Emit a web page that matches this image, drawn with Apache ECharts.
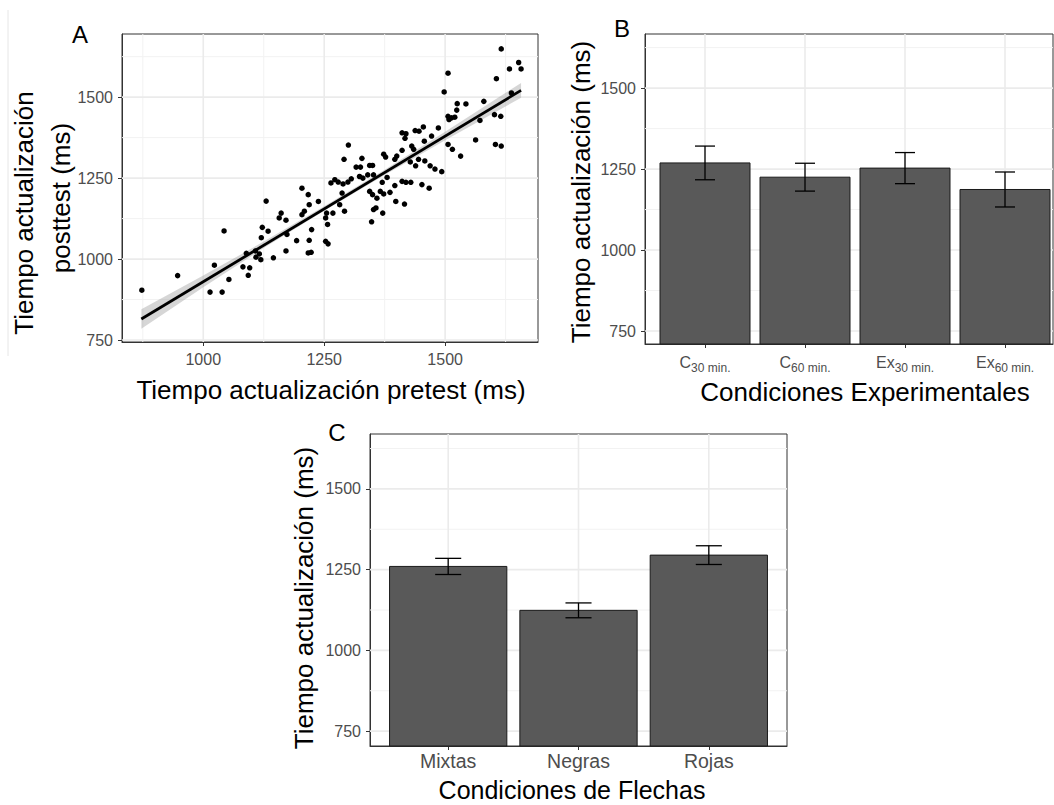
<!DOCTYPE html>
<html>
<head>
<meta charset="utf-8">
<title>Tiempo de actualización</title>
<script src="https://cdn.jsdelivr.net/npm/echarts@6/dist/echarts.min.js"></script>
<style>
  html, body { margin: 0; padding: 0; background: #fff; }
  #box { width: 1054px; height: 805px; }
</style>
</head>
<body>
<div id="box"></div>
<script>
// ---- A: pretest vs posttest ----
var pretest = [
  873, 947, 1014, 1039, 1023, 1043, 1053, 1082, 1096, 1093, 1089, 1109, 1119, 1120, 1122, 1130, 1134, 1108, 1116,
  1145, 1161, 1157, 1171, 1173, 1171, 1193, 1204, 1217, 1219, 1238, 1209, 1204, 1224, 1219, 1217, 1223, 1253, 1258,
  1255, 1253, 1257, 1268, 1264, 1272, 1279, 1289, 1299, 1306, 1287, 1292, 1282, 1300, 1291, 1328, 1316, 1325, 1344,
  1350, 1323, 1330, 1340, 1352, 1344, 1350, 1359, 1366, 1357, 1352, 1348, 1371,
  1616, 1633, 1652, 1657, 1606, 1506, 1498, 1580, 1543, 1525, 1524, 1506, 1513, 1520, 1508, 1637, 1572, 1602, 1615,
  1486, 1455, 1438, 1446, 1411, 1419, 1417, 1472, 1457, 1431, 1435, 1411, 1506, 1515, 1532, 1563, 1604, 1616, 1373,
  1377, 1396, 1400, 1428, 1445, 1439, 1458, 1469, 1479, 1493, 1380, 1370, 1411, 1419, 1429, 1452, 1467, 1396, 1386,
  1373, 1398, 1416
];
var posttest = [
  904, 949, 898, 898, 981, 1087, 937, 976, 973, 950, 1018, 1006, 998, 1066, 1098, 1179, 1086, 1025, 1016,
  1004, 1142, 1127, 1120, 1076, 1025, 1057, 1219, 1199, 1168, 1178, 1148, 1137, 1091, 1058, 1019, 1021, 1055, 1047,
  1142, 1127, 1107, 1142, 1235, 1245, 1238, 1232, 1238, 1248, 1204, 1148, 1168, 1352, 1308, 1311, 1284, 1284, 1289,
  1289, 1255, 1250, 1260, 1260, 1209, 1199, 1188, 1209, 1158, 1153, 1115, 1142,
  1649, 1587, 1607, 1587, 1557, 1574, 1516, 1487, 1479, 1480, 1460, 1441, 1436, 1438, 1431, 1513, 1428, 1446, 1441,
  1405, 1408, 1397, 1395, 1390, 1387, 1373, 1380, 1364, 1349, 1339, 1336, 1354, 1339, 1318, 1368, 1354, 1349, 1324,
  1315, 1308, 1318, 1300, 1308, 1288, 1303, 1288, 1278, 1270, 1252, 1237, 1240, 1237, 1237, 1230, 1219, 1227, 1206,
  1201, 1178, 1170
];
var fitX = [872, 1657];
var fitY = [815, 1521];
var bandX = [872, 1000, 1125, 1250, 1375, 1500, 1657];
var bandLow = [785, 913, 1034, 1149, 1260, 1367, 1498];
var bandHigh = [845, 949, 1054, 1163, 1276, 1393, 1544];

// ---- B: condiciones experimentales ----
var condB = ['C', 'C', 'Ex', 'Ex'];
var condBSub = ['30 min.', '60 min.', '30 min.', '60 min.'];
var meanB = [1269, 1225, 1253, 1187];
var errB = [52, 43, 48, 54];

// ---- C: condiciones de flechas ----
var condC = ['Mixtas', 'Negras', 'Rojas'];
var meanC = [1260, 1124, 1295];
var errC = [25, 23, 29];

// ticks
var xTicksA = [1000, 1250, 1500];
var xMinorA = [875, 1125, 1375, 1625];
var yTicks = [750, 1000, 1250, 1500];
var yMinor = [875, 1125, 1375, 1625];
var posB = [1, 2, 3, 4];
var posC = [1, 2, 3];

var FONT = 'Liberation Sans';
var myChart = echarts.init(document.getElementById('box'), null, { renderer: 'svg' });

function gridLines(idx, dir, values, width, color) {
  return {
    type: 'custom', xAxisIndex: idx, yAxisIndex: idx, z: 1, silent: true,
    data: values.map(function (v) { return [v]; }),
    renderItem: function (params, api) {
      var cs = params.coordSys;
      var v = api.value(0), shape;
      if (dir === 'x') {
        var px = api.coord([v, 1000])[0];
        shape = { x1: px, y1: cs.y, x2: px, y2: cs.y + cs.height };
      } else {
        var py = api.coord([1, v])[1];
        shape = { x1: cs.x, y1: py, x2: cs.x + cs.width, y2: py };
      }
      return { type: 'line', shape: shape, style: { stroke: color, lineWidth: width } };
    }
  };
}

function barSeries(idx, means, errs) {
  return [{
    type: 'custom', xAxisIndex: idx, yAxisIndex: idx, z: 3, silent: true,
    data: means.map(function (m, i) { return [i + 1, m, errs[i]]; }),
    renderItem: function (params, api) {
      var x = api.value(0), m = api.value(1);
      var left = api.coord([x - 0.45, m]);
      var right = api.coord([x + 0.45, m]);
      var bottom = params.coordSys.y + params.coordSys.height;
      return {
        type: 'rect',
        shape: { x: left[0], y: left[1], width: right[0] - left[0], height: bottom - left[1] },
        style: { fill: '#595959', stroke: '#1a1a1a', lineWidth: 1 }
      };
    }
  }, {
    type: 'custom', xAxisIndex: idx, yAxisIndex: idx, z: 4, silent: true,
    data: means.map(function (m, i) { return [i + 1, m, errs[i]]; }),
    renderItem: function (params, api) {
      var x = api.value(0), m = api.value(1), e = api.value(2);
      var hi = api.coord([x, m + e]), lo = api.coord([x, m - e]);
      var l = api.coord([x - 0.1, m])[0], r = api.coord([x + 0.1, m])[0];
      var st = { stroke: '#000', lineWidth: 1.3 };
      return { type: 'group', children: [
        { type: 'line', shape: { x1: hi[0], y1: hi[1], x2: lo[0], y2: lo[1] }, style: st },
        { type: 'line', shape: { x1: l, y1: hi[1], x2: r, y2: hi[1] }, style: st },
        { type: 'line', shape: { x1: l, y1: lo[1], x2: r, y2: lo[1] }, style: st }
      ] };
    }
  }];
}

function axisCommon(extra) {
  var a = {
    type: 'value',
    axisLine: { show: true, lineStyle: { color: '#333', width: 1 } },
    axisTick: { show: true, length: 4, lineStyle: { color: '#333', width: 1 } },
    axisLabel: { color: '#4d4d4d', fontFamily: FONT, fontSize: 16, margin: 9,
      formatter: function (v) { return String(v); } },
    splitLine: { show: false }
  };
  for (var k in extra) {
    if (typeof extra[k] === 'object' && a[k]) {
      for (var j in extra[k]) a[k][j] = extra[k][j];
    } else a[k] = extra[k];
  }
  return a;
}

function title(x, y, text, rot, size) {
  return {
    type: 'text', x: x, y: y, rotation: rot || 0, silent: true,
    style: { text: text, x: 0, y: 0, align: 'center', verticalAlign: 'middle',
      fill: '#000', fontFamily: FONT, fontSize: size || 26 }
  };
}

var gridStyle = { show: true, borderColor: '#333', borderWidth: 1, backgroundColor: '#fff' };

var option = {
  animation: false,
  grid: [
    Object.assign({ left: 122, top: 34, width: 416, height: 308 }, gridStyle),
    Object.assign({ left: 645, top: 34, width: 408, height: 310 }, gridStyle),
    Object.assign({ left: 370, top: 434, width: 417, height: 312 }, gridStyle)
  ],
  xAxis: [
    axisCommon({ gridIndex: 0, min: 832, max: 1692,
      axisTick: { customValues: xTicksA }, axisLabel: { customValues: xTicksA } }),
    axisCommon({ gridIndex: 1, min: 0.4, max: 4.48,
      axisTick: { customValues: posB },
      axisLabel: {
        customValues: posB, margin: 10,
        formatter: function (v) {
          var i = Math.round(v) - 1;
          return '{m|' + condB[i] + '}{s|' + condBSub[i] + '}';
        },
        rich: {
          m: { fontSize: 16, lineHeight: 20, verticalAlign: 'top', color: '#4d4d4d', fontFamily: FONT },
          s: { fontSize: 12, lineHeight: 10, verticalAlign: 'bottom', color: '#4d4d4d', fontFamily: FONT }
        }
      } }),
    axisCommon({ gridIndex: 2, min: 0.4, max: 3.6,
      axisTick: { customValues: posC },
      axisLabel: {
        customValues: posC, fontSize: 19.5, margin: 5,
        formatter: function (v) { return condC[Math.round(v) - 1]; }
      } })
  ],
  yAxis: [
    axisCommon({ gridIndex: 0, min: 744, max: 1695,
      axisTick: { customValues: yTicks }, axisLabel: { customValues: yTicks } }),
    axisCommon({ gridIndex: 1, min: 710, max: 1667,
      axisTick: { customValues: yTicks }, axisLabel: { customValues: yTicks } }),
    axisCommon({ gridIndex: 2, min: 704, max: 1670,
      axisTick: { customValues: yTicks }, axisLabel: { customValues: yTicks } })
  ],
  series: [
    gridLines(0, 'x', xMinorA, 1, '#f2f2f2'),
    gridLines(0, 'y', yMinor, 1, '#f2f2f2'),
    gridLines(0, 'x', xTicksA, 1.6, '#ebebeb'),
    gridLines(0, 'y', yTicks, 1.6, '#ebebeb'),
    {
      type: 'custom', xAxisIndex: 0, yAxisIndex: 0, z: 2, silent: true,
      data: [[bandX[0], bandLow[0]]],
      renderItem: function (params, api) {
        var pts = [], i;
        for (i = 0; i < bandX.length; i++) pts.push(api.coord([bandX[i], bandHigh[i]]));
        for (i = bandX.length - 1; i >= 0; i--) pts.push(api.coord([bandX[i], bandLow[i]]));
        return { type: 'polygon', shape: { points: pts }, style: { fill: 'rgba(153,153,153,0.4)' } };
      }
    },
    {
      type: 'scatter', xAxisIndex: 0, yAxisIndex: 0, z: 3, silent: true,
      symbolSize: 5.5,
      itemStyle: { color: '#000', opacity: 1 },
      data: pretest.map(function (x, i) { return [x, posttest[i]]; })
    },
    {
      type: 'line', xAxisIndex: 0, yAxisIndex: 0, z: 4, silent: true,
      symbol: 'none',
      lineStyle: { color: '#000', width: 2.8 },
      data: fitX.map(function (x, i) { return [x, fitY[i]]; })
    },

    gridLines(1, 'y', yMinor, 1, '#f2f2f2'),
    gridLines(1, 'x', posB, 1.6, '#ebebeb'),
    gridLines(1, 'y', yTicks, 1.6, '#ebebeb'),

    gridLines(2, 'y', yMinor, 1, '#f2f2f2'),
    gridLines(2, 'x', posC, 1.6, '#ebebeb'),
    gridLines(2, 'y', yTicks, 1.6, '#ebebeb')
  ].concat(barSeries(1, meanB, errB), barSeries(2, meanC, errC)),
  graphic: [
    { type: 'line', silent: true, shape: { x1: 8, y1: 10, x2: 8, y2: 356 }, style: { stroke: '#e6e6e6', lineWidth: 1 } },
    title(80, 34, 'A', 0, 24),
    title(622, 28, 'B', 0, 24),
    title(337, 432, 'C', 0, 24),
    title(24, 213, 'Tiempo actualización', Math.PI / 2),
    title(61, 198, 'posttest (ms)', Math.PI / 2),
    title(331, 390, 'Tiempo actualización pretest (ms)'),
    title(581, 192, 'Tiempo actualización (ms)', Math.PI / 2),
    title(865, 392, 'Condiciones Experimentales'),
    title(304, 598, 'Tiempo actualización (ms)', Math.PI / 2),
    title(572, 790, 'Condiciones de Flechas', 0, 25)
  ]
};
myChart.setOption(option);
</script>
</body>
</html>
